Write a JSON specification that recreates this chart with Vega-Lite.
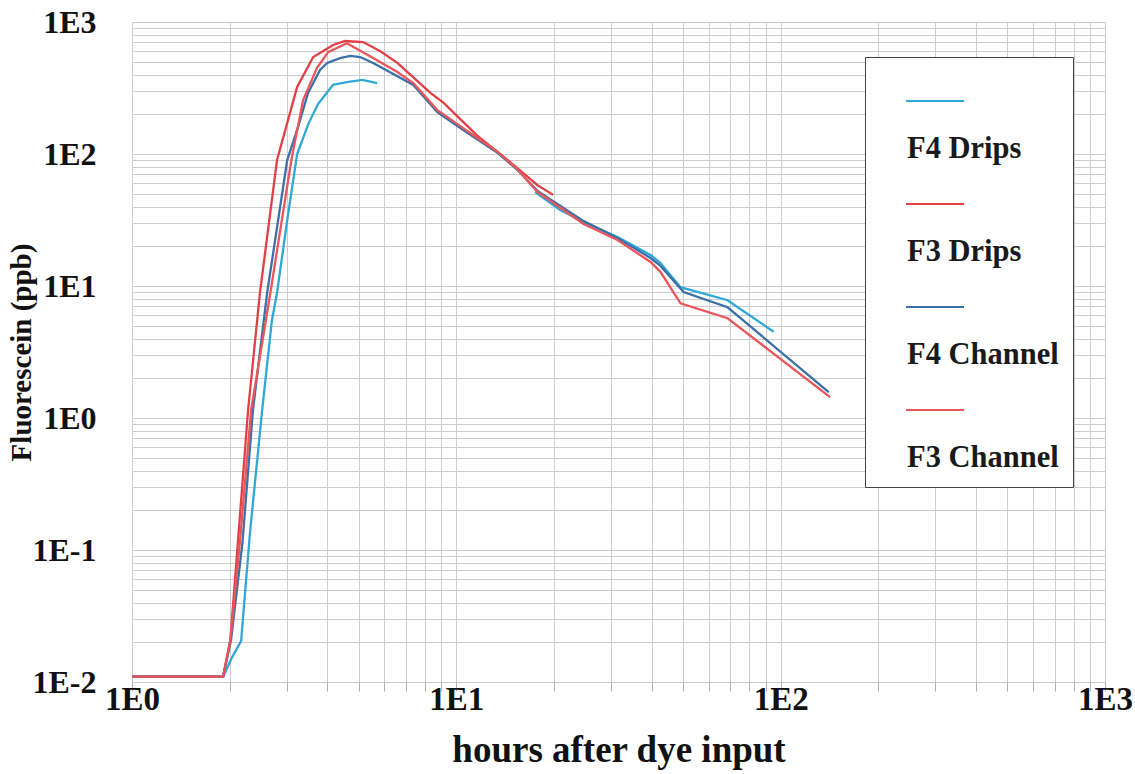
{
  "$schema": "https://vega.github.io/schema/vega-lite/v6.json",
  "autosize": {"type": "none"},
  "width": 973,
  "height": 660,
  "padding": {"left": 132, "top": 22, "right": 30, "bottom": 92},
  "background": "white",
  "data": {"values": [
    {"s": "F4 Drips", "seg": "a", "x": 1, "y": 0.011},
    {"s": "F4 Drips", "seg": "a", "x": 1.91, "y": 0.011},
    {"s": "F4 Drips", "seg": "a", "x": 2.03, "y": 0.0152},
    {"s": "F4 Drips", "seg": "a", "x": 2.17, "y": 0.0205},
    {"s": "F4 Drips", "seg": "a", "x": 2.31, "y": 0.134},
    {"s": "F4 Drips", "seg": "a", "x": 2.52, "y": 1.15},
    {"s": "F4 Drips", "seg": "a", "x": 2.7, "y": 5.5},
    {"s": "F4 Drips", "seg": "a", "x": 2.8, "y": 8.85},
    {"s": "F4 Drips", "seg": "a", "x": 3.01, "y": 31.6},
    {"s": "F4 Drips", "seg": "a", "x": 3.23, "y": 100},
    {"s": "F4 Drips", "seg": "a", "x": 3.5, "y": 170},
    {"s": "F4 Drips", "seg": "a", "x": 3.75, "y": 240},
    {"s": "F4 Drips", "seg": "a", "x": 4.17, "y": 335},
    {"s": "F4 Drips", "seg": "a", "x": 4.6, "y": 350},
    {"s": "F4 Drips", "seg": "a", "x": 5.13, "y": 364},
    {"s": "F4 Drips", "seg": "a", "x": 5.7, "y": 345},
    {"s": "F4 Drips", "seg": "b", "x": 17.5, "y": 51.5},
    {"s": "F4 Drips", "seg": "b", "x": 20.9, "y": 37.7},
    {"s": "F4 Drips", "seg": "b", "x": 24.7, "y": 30.5},
    {"s": "F4 Drips", "seg": "b", "x": 31.4, "y": 23.5},
    {"s": "F4 Drips", "seg": "b", "x": 39.7, "y": 17.2},
    {"s": "F4 Drips", "seg": "b", "x": 42.6, "y": 14.9},
    {"s": "F4 Drips", "seg": "b", "x": 49.1, "y": 9.8},
    {"s": "F4 Drips", "seg": "b", "x": 68.6, "y": 7.8},
    {"s": "F4 Drips", "seg": "b", "x": 95.1, "y": 4.5},

    {"s": "F3 Drips", "seg": "a", "x": 1, "y": 0.011},
    {"s": "F3 Drips", "seg": "a", "x": 1.91, "y": 0.011},
    {"s": "F3 Drips", "seg": "a", "x": 2.01, "y": 0.0208},
    {"s": "F3 Drips", "seg": "a", "x": 2.12, "y": 0.113},
    {"s": "F3 Drips", "seg": "a", "x": 2.28, "y": 1.15},
    {"s": "F3 Drips", "seg": "a", "x": 2.48, "y": 8.85},
    {"s": "F3 Drips", "seg": "a", "x": 2.8, "y": 90},
    {"s": "F3 Drips", "seg": "a", "x": 3.23, "y": 322},
    {"s": "F3 Drips", "seg": "a", "x": 3.62, "y": 543},
    {"s": "F3 Drips", "seg": "a", "x": 4.17, "y": 670},
    {"s": "F3 Drips", "seg": "a", "x": 4.54, "y": 718},
    {"s": "F3 Drips", "seg": "a", "x": 5.16, "y": 705},
    {"s": "F3 Drips", "seg": "a", "x": 5.83, "y": 600},
    {"s": "F3 Drips", "seg": "a", "x": 6.58, "y": 490},
    {"s": "F3 Drips", "seg": "a", "x": 8.32, "y": 290},
    {"s": "F3 Drips", "seg": "a", "x": 9.12, "y": 245},
    {"s": "F3 Drips", "seg": "a", "x": 11.6, "y": 138},
    {"s": "F3 Drips", "seg": "a", "x": 14.4, "y": 90},
    {"s": "F3 Drips", "seg": "a", "x": 17.8, "y": 58},
    {"s": "F3 Drips", "seg": "a", "x": 19.9, "y": 49},

    {"s": "F4 Channel", "seg": "a", "x": 1, "y": 0.011},
    {"s": "F4 Channel", "seg": "a", "x": 1.91, "y": 0.011},
    {"s": "F4 Channel", "seg": "a", "x": 2.02, "y": 0.0208},
    {"s": "F4 Channel", "seg": "a", "x": 2.19, "y": 0.113},
    {"s": "F4 Channel", "seg": "a", "x": 2.36, "y": 1.15},
    {"s": "F4 Channel", "seg": "a", "x": 2.61, "y": 8.85},
    {"s": "F4 Channel", "seg": "a", "x": 3.01, "y": 90},
    {"s": "F4 Channel", "seg": "a", "x": 3.25, "y": 160},
    {"s": "F4 Channel", "seg": "a", "x": 3.49, "y": 290},
    {"s": "F4 Channel", "seg": "a", "x": 3.8, "y": 433},
    {"s": "F4 Channel", "seg": "a", "x": 4.0, "y": 489},
    {"s": "F4 Channel", "seg": "a", "x": 4.38, "y": 533},
    {"s": "F4 Channel", "seg": "a", "x": 4.71, "y": 553},
    {"s": "F4 Channel", "seg": "a", "x": 5.05, "y": 543},
    {"s": "F4 Channel", "seg": "a", "x": 5.54, "y": 489},
    {"s": "F4 Channel", "seg": "a", "x": 7.37, "y": 333},
    {"s": "F4 Channel", "seg": "a", "x": 8.74, "y": 208},
    {"s": "F4 Channel", "seg": "a", "x": 10.5, "y": 152},
    {"s": "F4 Channel", "seg": "a", "x": 13.4, "y": 102},
    {"s": "F4 Channel", "seg": "a", "x": 15.4, "y": 76},
    {"s": "F4 Channel", "seg": "a", "x": 17.8, "y": 52.5},
    {"s": "F4 Channel", "seg": "a", "x": 24.7, "y": 31},
    {"s": "F4 Channel", "seg": "a", "x": 31.4, "y": 23.1},
    {"s": "F4 Channel", "seg": "a", "x": 39.7, "y": 16.3},
    {"s": "F4 Channel", "seg": "a", "x": 42.6, "y": 14.2},
    {"s": "F4 Channel", "seg": "a", "x": 50.2, "y": 9.0},
    {"s": "F4 Channel", "seg": "a", "x": 68.6, "y": 6.9},
    {"s": "F4 Channel", "seg": "a", "x": 140.6, "y": 1.57},

    {"s": "F3 Channel", "seg": "a", "x": 1, "y": 0.011},
    {"s": "F3 Channel", "seg": "a", "x": 1.91, "y": 0.011},
    {"s": "F3 Channel", "seg": "a", "x": 2.01, "y": 0.0208},
    {"s": "F3 Channel", "seg": "a", "x": 2.15, "y": 0.113},
    {"s": "F3 Channel", "seg": "a", "x": 2.33, "y": 1.15},
    {"s": "F3 Channel", "seg": "a", "x": 2.67, "y": 8.85},
    {"s": "F3 Channel", "seg": "a", "x": 3.1, "y": 90},
    {"s": "F3 Channel", "seg": "a", "x": 3.37, "y": 256},
    {"s": "F3 Channel", "seg": "a", "x": 3.72, "y": 449},
    {"s": "F3 Channel", "seg": "a", "x": 4.03, "y": 593},
    {"s": "F3 Channel", "seg": "a", "x": 4.6, "y": 690},
    {"s": "F3 Channel", "seg": "a", "x": 5.54, "y": 533},
    {"s": "F3 Channel", "seg": "a", "x": 6.58, "y": 418},
    {"s": "F3 Channel", "seg": "a", "x": 7.37, "y": 345},
    {"s": "F3 Channel", "seg": "a", "x": 8.74, "y": 215},
    {"s": "F3 Channel", "seg": "a", "x": 10.5, "y": 157},
    {"s": "F3 Channel", "seg": "a", "x": 13.4, "y": 104},
    {"s": "F3 Channel", "seg": "a", "x": 15.4, "y": 77},
    {"s": "F3 Channel", "seg": "a", "x": 17.8, "y": 51.5},
    {"s": "F3 Channel", "seg": "a", "x": 24.7, "y": 29.5},
    {"s": "F3 Channel", "seg": "a", "x": 31.4, "y": 22.3},
    {"s": "F3 Channel", "seg": "a", "x": 39.7, "y": 15.2},
    {"s": "F3 Channel", "seg": "a", "x": 42.6, "y": 12.8},
    {"s": "F3 Channel", "seg": "a", "x": 49.1, "y": 7.4},
    {"s": "F3 Channel", "seg": "a", "x": 68.6, "y": 5.7},
    {"s": "F3 Channel", "seg": "a", "x": 142, "y": 1.44}
  ]},
  "mark": {"type": "line", "strokeWidth": 2.3, "clip": true},
  "encoding": {
    "x": {
      "field": "x", "type": "quantitative",
      "scale": {"type": "log", "domain": [1, 1000], "nice": false},
      "axis": {
        "title": "hours after dye input",
        "values": [1,2,3,4,5,6,7,8,9,10,20,30,40,50,60,70,80,90,100,200,300,400,500,600,700,800,900,1000],
        "labelExpr": "abs(log(datum.value)/LN10 - round(log(datum.value)/LN10)) < 0.001 ? '1E' + round(log(datum.value)/LN10) : ''",
        "labelOverlap": false, "labelFlush": false,
        "labelFont": "Liberation Serif", "labelFontWeight": "bold", "labelFontSize": 33, "labelColor": "#111",
        "labelPadding": -8,
        "titleFont": "Liberation Serif", "titleFontWeight": "bold", "titleFontSize": 37, "titleColor": "#111",
        "titlePadding": 16,
        "tickSize": 9, "tickColor": "#b0b0b0",
        "domain": false,
        "gridColor": "#cccccc", "gridWidth": 1
      }
    },
    "y": {
      "field": "y", "type": "quantitative",
      "scale": {"type": "log", "domain": [0.01, 1000], "nice": false},
      "axis": {
        "title": "Fluorescein (ppb)",
        "titleX": -111,
        "titleY": 330,
        "titleBaseline": "middle",
        "titleAngle": -90,
        "values": [0.01,0.02,0.03,0.04,0.05,0.06,0.07,0.08,0.09,0.1,0.2,0.3,0.4,0.5,0.6,0.7,0.8,0.9,1,2,3,4,5,6,7,8,9,10,20,30,40,50,60,70,80,90,100,200,300,400,500,600,700,800,900,1000],
        "labelExpr": "abs(log(datum.value)/LN10 - round(log(datum.value)/LN10)) < 0.001 ? '1E' + round(log(datum.value)/LN10) : ''",
        "labelOverlap": false, "labelFlush": false,
        "labelFont": "Liberation Serif", "labelFontWeight": "bold", "labelFontSize": 32, "labelColor": "#111",
        "labelPadding": 36,
        "titleFont": "Liberation Serif", "titleFontWeight": "bold", "titleFontSize": 29, "titleColor": "#111",
        "ticks": false,
        "domain": false,
        "gridColor": "#cccccc", "gridWidth": 1
      }
    },
    "color": {
      "field": "s", "type": "nominal",
      "scale": {
        "domain": ["F4 Drips", "F3 Drips", "F4 Channel", "F3 Channel"],
        "range": ["#2fa8d6", "#e23f46", "#3c70a8", "#e9555b"]
      },
      "legend": {
        "title": null,
        "orient": "none",
        "legendX": 733,
        "legendY": 35,
        "direction": "vertical",
        "fillColor": "white",
        "strokeColor": "#444444",
        "padding": 14,
        "symbolOffset": 26,
        "symbolType": "stroke",
        "symbolSize": 3364,
        "symbolStrokeWidth": 2,
        "labelFont": "Liberation Serif",
        "labelFontWeight": "bold",
        "labelFontSize": 30.5,
        "labelColor": "#1a1a1a",
        "labelBaseline": "top",
        "labelOffset": -58,
        "labelLimit": 0,
        "labelExpr": "['', datum.label]",
        "rowPadding": 10
      }
    },
    "detail": {"field": "seg"}
  },
  "config": {"view": {"stroke": null}}
}
